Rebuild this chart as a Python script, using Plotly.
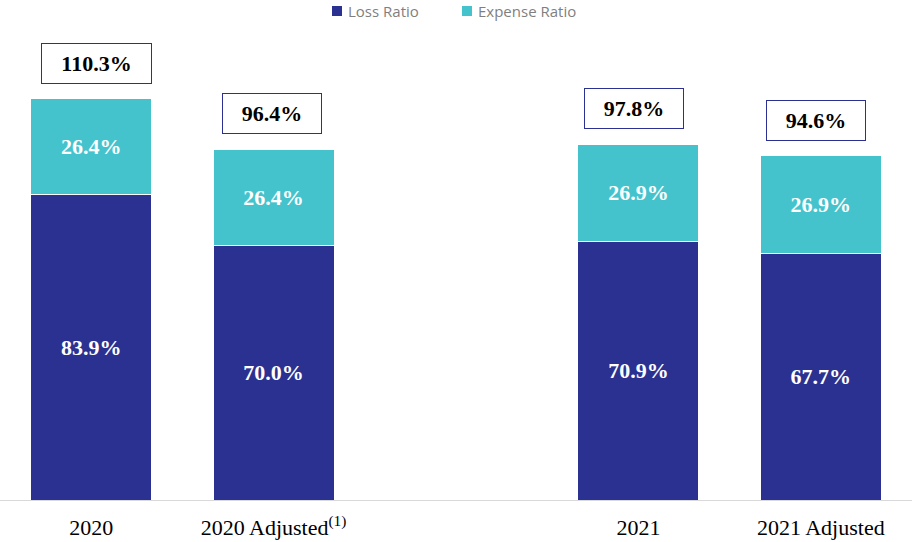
import plotly.graph_objects as go

categories = ["2020", "2020 Adjusted<sup>(1)</sup>", "", "2021", "2021 Adjusted"]
loss_ratio = [83.9, 70.0, None, 70.9, 67.7]
expense_ratio = [26.4, 26.4, None, 26.9, 26.9]
combined_ratio = [110.3, 96.4, None, 97.8, 94.6]
series_names = ["Loss Ratio", "Expense Ratio"]

LOSS_COLOR = "#2B3190"
EXP_COLOR = "#45C3CC"
SERIF = "Liberation Serif, Times New Roman, serif"
SANS = "Open Sans, sans-serif"
PLOT_W = 912
PLOT_TOP, PLOT_BOTTOM = 45, 500
BOX_XSHIFT = [5, -2, 0, -4, -5]  # small horizontal nudges of the total boxes

idx = list(range(len(categories)))

def fmt(vals):
    return ["" if v is None else f"<b>{v:.1f}%</b>" for v in vals]

fig = go.Figure()
for name, vals, color in [(series_names[0], loss_ratio, LOSS_COLOR),
                          (series_names[1], expense_ratio, EXP_COLOR)]:
    fig.add_trace(go.Bar(
        name=name, x=idx, y=vals,
        marker=dict(color=color, line=dict(color="white", width=1)),
        text=fmt(vals), textposition="inside", insidetextanchor="middle",
        textfont=dict(family=SERIF, size=22, color="white"),
        hoverinfo="skip", showlegend=False,
    ))

for i, tot, xs in zip(idx, combined_ratio, BOX_XSHIFT):
    if tot is None:
        continue
    fig.add_annotation(
        x=i, y=tot, xref="x", yref="y",
        text=f"<b>{tot:.1f}%</b>", showarrow=False,
        yanchor="bottom", yshift=15, xshift=xs,
        font=dict(family=SERIF, size=22, color="black"),
        bordercolor="#2B3190", borderwidth=1, borderpad=7,
        bgcolor="white", width=95 if tot >= 100 else 84,
    )

# custom legend (square swatch + label), placed in pixel terms
def px_x(p):
    return p / PLOT_W

def px_y(p):
    return (PLOT_BOTTOM - p) / (PLOT_BOTTOM - PLOT_TOP)

legend_items = [(series_names[0], LOSS_COLOR, 332), (series_names[1], EXP_COLOR, 462)]
for name, color, sx in legend_items:
    fig.add_shape(
        type="rect", xref="paper", yref="paper",
        x0=px_x(sx), x1=px_x(sx + 10), y0=px_y(16), y1=px_y(6),
        fillcolor=color, line=dict(width=0),
    )
    fig.add_annotation(
        x=px_x(sx + 14), y=px_y(11), xref="paper", yref="paper",
        xanchor="left", yanchor="middle", showarrow=False,
        text=name, font=dict(family=SANS, size=15, color="#7F7F7F"),
    )

fig.update_layout(
    barmode="stack",
    bargap=0.337,
    width=914, height=542,
    margin=dict(l=0, r=2, t=PLOT_TOP, b=542 - PLOT_BOTTOM),
    plot_bgcolor="white", paper_bgcolor="white",
    showlegend=False,
    xaxis=dict(
        range=[-0.5, len(categories) - 0.5],
        tickmode="array", tickvals=idx, ticktext=categories,
        showline=True, linecolor="#D9D9D9", linewidth=1,
        showgrid=False, zeroline=False, ticks="",
        ticklabelstandoff=8,
        tickfont=dict(family=SERIF, size=22, color="black"),
    ),
    yaxis=dict(range=[0, 125], visible=False, showgrid=False),
)

fig.write_html(
    "out.html",
    config={"displayModeBar": False},
    post_script="document.body.style.margin='0';document.body.style.overflow='hidden';",
)
